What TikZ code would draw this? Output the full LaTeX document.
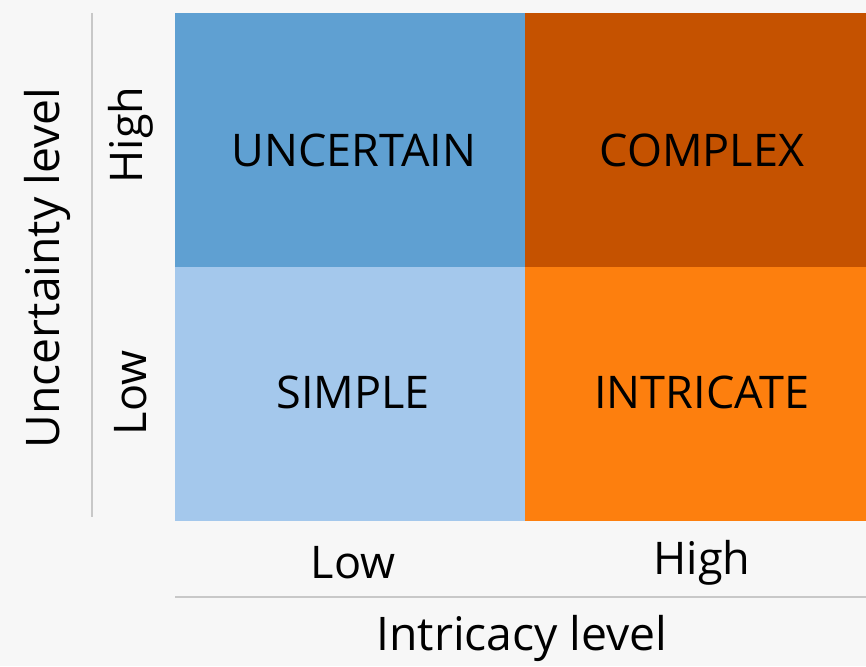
\documentclass[tikz,border=0pt]{standalone}
\usepackage{fontspec}
\setmainfont{Open Sans}
\definecolor{bgc}{HTML}{F7F7F7}
\definecolor{lnc}{HTML}{C8C8C8}
\definecolor{qtl}{HTML}{5FA0D2}
\definecolor{qbl}{HTML}{A4C8EC}
\definecolor{qtr}{HTML}{C55200}
\definecolor{qbr}{HTML}{FD7F0E}
\begin{document}
\begin{tikzpicture}[x=1pt,y=-1pt,
  quad/.style={inner sep=0pt,outer sep=0pt,font=\fontsize{45}{48}\selectfont,text=black},
  axlab/.style={inner sep=0pt,font=\fontsize{45}{48}\selectfont,text=black},
  axtitle/.style={inner sep=0pt,font=\fontsize{46.3}{48}\selectfont,text=black},
  rule/.style={draw=lnc,line width=2.5pt}]
\fill[bgc] (0,0) rectangle (866,666);
\useasboundingbox (0,0) rectangle (866,666);
\fill[qtl] (175,13) rectangle (525,267);
\fill[qtr] (525,13) rectangle (866,267);
\fill[qbl] (175,267) rectangle (525,521);
\fill[qbr] (525,267) rectangle (866,521);
\node[quad] (unc) at (354,150) {UNCERTAIN};
\node[quad] (cpx) at (702,150) {COMPLEX};
\node[quad] (sim) at (353,392) {SIMPLE};
\node[quad] (int) at (702,392) {INTRICATE};
\node[axlab,rotate=90] (yh) at (131,135) {High};
\node[axlab,rotate=90] (yl) at (131,393) {Low};
\node[axtitle,rotate=90] (yt) at (47,268) {Uncertainty level};
\node[axlab] (xl) at (353,563) {Low};
\node[axlab] (xh) at (702,563) {High};
\node[axtitle] (xt) at (522,638) {Intricacy level};
\coordinate (v1) at (92,13);
\coordinate (v2) at (92,517);
\coordinate (h1) at (175,597);
\coordinate (h2) at (866,597);
\draw[rule] (v1) -- (v2);
\draw[rule] (h1) -- (h2);
\end{tikzpicture}
\end{document}
